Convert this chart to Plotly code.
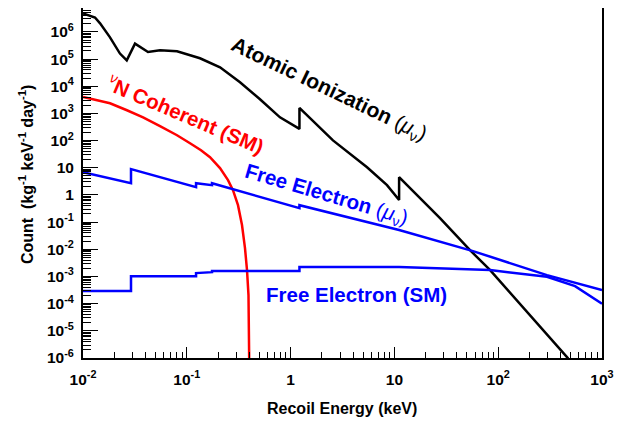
import plotly.graph_objects as go

# ---------------- data ----------------
atomic_E = [0.010, 0.01305, 0.0146, 0.0182, 0.0227, 0.0264, 0.0317, 0.0354, 0.0423, 0.0552, 0.0805,
            0.134, 0.209, 0.3255, 0.507, 0.790, 1.217, 1.217, 2.56, 5.45, 8.49,
            11.1, 11.1, 27.5, 53.5, 83.2, 468, 700]
atomic_Y = [4.8e6, 3.4e6, 2.07e6, 6.3e5, 1.6e5, 9.0e4, 3.7e5, 2.8e5, 1.83e5, 2.1e5, 1.95e5,
            1.07e5, 5.0e4, 1.40e4, 3.33e3, 7.2e2, 2.7e2, 1.6e3, 1.02e2, 10.5, 2.3,
            0.65, 4.5, 0.14, 9.3e-3, 1.74e-3, 1.0e-6, 5e-8]

coh_E = [0.010, 0.0182, 0.0265, 0.0379, 0.0552, 0.0805, 0.1074, 0.137, 0.1673, 0.2089, 0.2494,
         0.2786, 0.3113, 0.3402, 0.3636, 0.3802, 0.3929, 0.4000, 0.404]
coh_Y = [4.05e3, 2.37e3, 1.31e3, 7.2e2, 3.4e2, 1.58e2, 80, 44, 24.5, 9.7, 3.5,
         1.50, 0.42, 0.078, 0.0111, 1.72e-3, 2.07e-4, 1.07e-5, 1e-8]

fe_mu_E = [0.010, 0.029, 0.029, 0.1228, 0.1228, 0.175, 0.175, 1.217, 1.217, 11.1, 57.2, 295, 1000]
fe_mu_Y = [6.9, 2.7, 8.9, 1.94, 2.7, 2.3, 2.7, 0.327, 0.42, 0.051, 8.6e-3, 1.12e-3, 3.2e-4]

fe_sm_E = [0.010, 0.029, 0.029, 0.1228, 0.1228, 0.175, 0.175, 1.217, 1.217, 11.1, 83.4, 295, 550, 1000]
fe_sm_Y = [2.9e-4, 2.9e-4, 1.03e-3, 1.03e-3, 1.33e-3, 1.44e-3, 1.58e-3, 1.58e-3, 2.22e-3, 2.22e-3,
           1.72e-3, 9.8e-4, 4.4e-4, 1.0e-4]

x_tickvals = [1e-2, 1e-1, 1, 10, 1e2, 1e3]
x_ticktext = ["10<sup>-2</sup>", "10<sup>-1</sup>", "1", "10", "10<sup>2</sup>", "10<sup>3</sup>"]
y_tickvals = [1e-6, 1e-5, 1e-4, 1e-3, 1e-2, 1e-1, 1, 10, 1e2, 1e3, 1e4, 1e5, 1e6]
y_ticktext = ["10<sup>-6</sup>", "10<sup>-5</sup>", "10<sup>-4</sup>", "10<sup>-3</sup>",
              "10<sup>-2</sup>", "10<sup>-1</sup>", "1", "10", "10<sup>2</sup>",
              "10<sup>3</sup>", "10<sup>4</sup>", "10<sup>5</sup>", "10<sup>6</sup>"]

x_minor = [m * 10.0 ** k for k in range(-2, 3) for m in range(2, 10)]
y_minor = [m * 10.0 ** k for k in range(-6, 7) for m in range(2, 10)]

FONT = "Liberation Sans, Arial, Helvetica, sans-serif"

fig = go.Figure()
fig.add_trace(go.Scatter(x=atomic_E, y=atomic_Y, mode="lines", line=dict(color="black", width=2.5)))
fig.add_trace(go.Scatter(x=coh_E, y=coh_Y, mode="lines", line=dict(color="#ff0000", width=2.5)))
fig.add_trace(go.Scatter(x=fe_mu_E, y=fe_mu_Y, mode="lines", line=dict(color="#0000ff", width=2.5)))
fig.add_trace(go.Scatter(x=fe_sm_E, y=fe_sm_Y, mode="lines", line=dict(color="#0000ff", width=2.5)))

# page body has an 8px margin; figure is sized so that it ends at the window edge
OFF = 8
W, H = 628 - OFF, 422 - OFF
L, R, T, B = 83 - OFF, 26, 8 - OFF, 64
PW, PH = W - L - R, H - T - B


def px(xp, yp):
    # reference window pixel -> paper coords
    return (xp - OFF - L) / PW, (H - B - (yp - OFF)) / PH


def ann(text, xp, yp, color, angle=0, size=20.5):
    x, y = px(xp, yp)
    return dict(text=text, x=x, y=y, xref="paper", yref="paper", showarrow=False,
                textangle=angle, xanchor="center", yanchor="middle",
                font=dict(family=FONT, size=size, color=color, weight="bold"))


mu = '<span style="font-weight:normal">(<i>μ</i><sub>ν</sub>)</span>'
annotations = [
    ann("Atomic Ionization " + mu, 329, 90, "black", 25.5, 21),
    ann('<span style="font-weight:normal"><sup><i>ν</i></sup></span>N Coherent (SM)', 186, 114, "#ff0000", 23),
    ann("Free Electron " + mu, 326, 195, "#0000ff", 16.5),
    ann("Free Electron (SM)", 356, 294, "#0000ff", 0),
    ann("Count  (kg<sup>-1</sup> keV<sup>-1</sup> day<sup>-1</sup>)", 26, 175, "black", -90, 16),
    ann("Recoil Energy (keV)", 342, 408, "black", 0, 16),
]

axis_common = dict(type="log", ticks="inside", tickwidth=1, tickcolor="black",
                   showline=True, linecolor="black", linewidth=2, mirror=True,
                   showgrid=False, zeroline=False,
                   tickfont=dict(family=FONT, size=15.5, color="black", weight="bold"))

fig.update_layout(
    width=W, height=H, margin=dict(l=L, r=R, t=T, b=B, autoexpand=False),
    paper_bgcolor="white", plot_bgcolor="white", showlegend=False,
    xaxis=dict(range=[-2, 3], tickvals=x_tickvals, ticktext=x_ticktext, ticklen=11,
               minor=dict(tickvals=x_minor, ticks="inside", ticklen=6, tickcolor="black", showgrid=False),
               ticklabelstandoff=6, **axis_common),
    yaxis=dict(range=[-6, 6.88], tickvals=y_tickvals, ticktext=y_ticktext, ticklen=15,
               minor=dict(tickvals=y_minor, ticks="inside", ticklen=8, tickcolor="black", showgrid=False),
               ticklabelstandoff=4, **axis_common),
    annotations=annotations,
)

fig.write_html("out.html")
